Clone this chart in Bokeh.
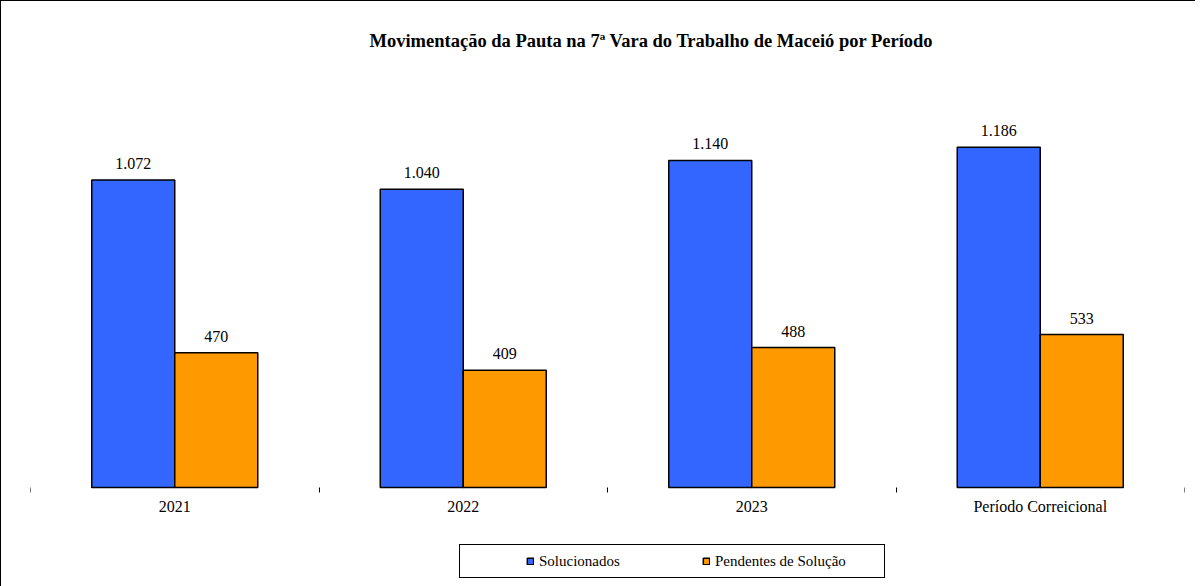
from bokeh.plotting import figure
from bokeh.models import ColumnDataSource, Range1d, FixedTicker, Legend, LegendItem, LabelSet
from bokeh.core.properties import value
from bokeh.embed import file_html
from bokeh.resources import INLINE

categories = ["2021", "2022", "2023", "Período Correicional"]
solucionados = [1072, 1040, 1140, 1186]
pendentes = [470, 409, 488, 533]
series_names = ["Solucionados", "Pendentes de Solução"]
series_colors = ["#3366FF", "#FF9900"]
title_text = "Movimentação da Pauta na 7ª Vara do Trabalho de Maceió por Período"

FONT = "Liberation Serif"


def fmt(v):
    return f"{v:,}".replace(",", ".")


n = len(categories)
centers = [i + 0.5 for i in range(n)]
bar_w = 0.2877

# frame reaches down to the legend; y = 0 sits where the category axis is drawn
p = figure(frame_width=1154, frame_height=532, x_range=Range1d(0, n), y_range=Range1d(-348.5, 1506),
           output_backend="svg", toolbar_location=None, y_axis_location=None,
           min_border_left=29, min_border_right=11, min_border_top=54, min_border_bottom=0,
           outline_line_color=None)
p.styles = {"border-top": "1px solid black", "border-left": "1px solid black"}

renderers = []
for k, (vals, name, color) in enumerate(zip([solucionados, pendentes], series_names, series_colors)):
    offset = (-0.5 if k == 0 else 0.5) * bar_w
    src = ColumnDataSource(dict(x=[c + offset for c in centers], top=vals, label=[fmt(v) for v in vals]))
    r = p.vbar(x="x", top="top", bottom=0, width=bar_w, source=src,
               fill_color=color, line_color="black", line_width=1.5)
    renderers.append(r)
    labels = LabelSet(x="x", y="top", text="label", source=src, text_align="center",
                      text_baseline="bottom", y_offset=11, text_font=value(FONT),
                      text_font_size=value("16px"), text_color="black")
    p.add_layout(labels)

p.xgrid.visible = False
p.ygrid.visible = False

ax = p.xaxis[0]
ax.fixed_location = 0
ax.ticker = FixedTicker(ticks=centers, minor_ticks=list(range(n + 1)))
ax.major_label_overrides = {c: cat for c, cat in zip(centers, categories)}
ax.axis_line_color = None
ax.major_tick_line_color = None
ax.major_tick_out = 0
ax.major_tick_in = 0
ax.minor_tick_line_color = "black"
ax.minor_tick_out = 5
ax.minor_tick_in = 0
ax.major_label_standoff = 5
ax.major_label_text_font = FONT
ax.major_label_text_font_size = "16px"
ax.major_label_text_color = "black"

p.title.text = title_text
p.title.align = "left"
p.title.offset = 339
p.title.text_font = FONT
p.title.text_font_style = "bold"
p.title.text_font_size = "18.5px"
p.title.text_color = "black"

legend = Legend(items=[LegendItem(label=nm, renderers=[r]) for nm, r in zip(series_names, renderers)],
                orientation="horizontal", location=(429, 9), margin=0, padding=6,
                title=" ", title_location="left", title_standoff=49, title_text_font_size="10px",
                spacing=0, label_width=163, label_height=20, glyph_width=8, glyph_height=8,
                label_standoff=5, label_text_font=FONT, label_text_font_size="15px",
                label_text_color="black",
                border_line_color="black", border_line_width=1, border_line_alpha=1,
                background_fill_alpha=1)
p.add_layout(legend)

open("out.html", "w").write(file_html(p, INLINE))
